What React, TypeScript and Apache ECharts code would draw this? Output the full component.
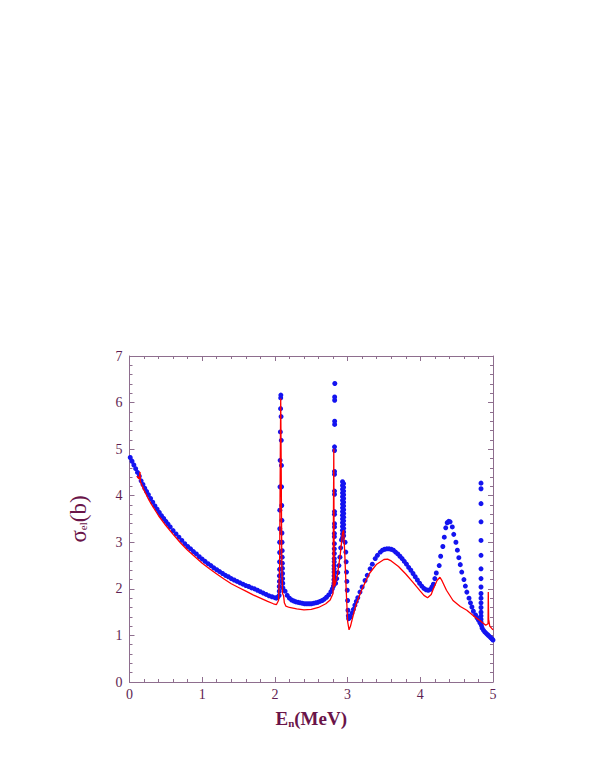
import React, { useEffect, useRef } from "react";
import * as echarts from "echarts";

// ---------- data (E in MeV, sigma in barn) ----------
const xTickValues = [0, 1, 2, 3, 4, 5];
const yTickValues = [0, 1, 2, 3, 4, 5, 6, 7];

const blueLow: [number, number][] = [
  [0.01, 4.82], [0.035, 4.74], [0.06, 4.66], [0.085, 4.58], [0.11, 4.5], [0.135, 4.42],
  [0.16, 4.32], [0.185, 4.24], [0.21, 4.16], [0.235, 4.09], [0.26, 4.02], [0.29, 3.94],
  [0.32, 3.86], [0.35, 3.78], [0.38, 3.71], [0.41, 3.64], [0.44, 3.57], [0.47, 3.51],
  [0.5, 3.45], [0.53, 3.39], [0.56, 3.33], [0.6, 3.25], [0.64, 3.18], [0.68, 3.11],
  [0.72, 3.04], [0.76, 2.97], [0.8, 2.91], [0.84, 2.86], [0.88, 2.8], [0.92, 2.75],
  [0.96, 2.69], [1.0, 2.64], [1.04, 2.59], [1.08, 2.54], [1.12, 2.5], [1.16, 2.45],
  [1.2, 2.41], [1.24, 2.37], [1.28, 2.33], [1.32, 2.29], [1.36, 2.26], [1.4, 2.22],
  [1.44, 2.19], [1.48, 2.16], [1.52, 2.13], [1.56, 2.1], [1.6, 2.07], [1.64, 2.05],
  [1.68, 2.02], [1.72, 2.0], [1.76, 1.97], [1.8, 1.94], [1.84, 1.91], [1.88, 1.88],
  [1.92, 1.85], [1.96, 1.83], [2.0, 1.81], [2.02, 1.8], [2.04, 1.82],
];

const blueRes1: [number, number][] = [
  [2.058, 1.86], [2.06, 1.95], [2.06, 2.05], [2.062, 2.16], [2.062, 2.28], [2.064, 2.42],
  [2.064, 2.58], [2.066, 2.78], [2.066, 3.0], [2.068, 3.29], [2.068, 3.69], [2.07, 4.19],
  [2.072, 4.76], [2.075, 5.37], [2.078, 5.87], [2.08, 6.1], [2.082, 6.16], [2.085, 5.7],
  [2.088, 5.19], [2.09, 4.65], [2.092, 4.19], [2.094, 3.79], [2.096, 3.47], [2.097, 3.2],
  [2.098, 3.0], [2.1, 2.82], [2.1, 2.68], [2.102, 2.55], [2.104, 2.44], [2.105, 2.33],
  [2.106, 2.22], [2.108, 2.12], [2.11, 2.02],
];

const blueMid: [number, number][] = [
  [2.14, 1.95], [2.17, 1.86], [2.2, 1.8], [2.23, 1.76], [2.26, 1.74], [2.29, 1.72],
  [2.32, 1.71], [2.35, 1.7], [2.38, 1.69], [2.41, 1.68], [2.44, 1.68], [2.47, 1.68],
  [2.5, 1.68], [2.53, 1.69], [2.56, 1.7], [2.59, 1.71], [2.62, 1.73], [2.65, 1.75],
  [2.68, 1.78], [2.71, 1.82], [2.74, 1.87], [2.77, 1.94], [2.79, 2.0], [2.805, 2.06],
];

const blueRes2: [number, number][] = [
  [2.812, 2.12], [2.812, 2.2], [2.814, 2.28], [2.814, 2.36], [2.815, 2.43], [2.815, 2.5],
  [2.816, 2.58], [2.816, 2.65], [2.817, 2.76], [2.817, 2.86], [2.818, 2.97], [2.818, 3.12],
  [2.818, 3.19], [2.82, 3.33], [2.82, 3.4], [2.82, 3.6], [2.82, 3.66], [2.82, 4.03],
  [2.82, 4.1], [2.82, 4.46], [2.82, 4.52], [2.82, 4.97], [2.82, 5.05], [2.822, 5.53],
  [2.822, 5.6], [2.822, 6.05], [2.822, 6.12], [2.824, 6.41],
  [2.835, 2.12], [2.85, 2.22], [2.865, 2.35], [2.88, 2.5], [2.895, 2.68], [2.905, 2.88],
  [2.915, 3.05],
];

const blueRes3: [number, number][] = [
  [2.93, 3.1], [2.93, 3.18], [2.93, 3.26], [2.93, 3.34], [2.93, 3.42], [2.93, 3.5],
  [2.93, 3.58], [2.93, 3.66], [2.93, 3.74], [2.93, 3.82], [2.93, 3.9], [2.93, 3.98],
  [2.93, 4.06], [2.93, 4.14], [2.93, 4.22], [2.93, 4.3],
  [2.945, 3.14], [2.945, 3.22], [2.945, 3.3], [2.945, 3.38], [2.945, 3.46], [2.945, 3.54],
  [2.945, 3.62], [2.945, 3.7], [2.945, 3.78], [2.945, 3.86], [2.945, 3.94], [2.945, 4.02],
  [2.945, 4.1], [2.945, 4.18], [2.945, 4.26],
  [2.965, 3.0], [2.975, 2.79], [2.98, 2.58], [2.985, 2.36], [2.99, 2.16], [2.995, 1.97],
  [3.0, 1.75], [3.005, 1.54], [3.01, 1.42], [3.015, 1.36],
];

const blueHump: [number, number][] = [
  [3.02, 1.38], [3.04, 1.4], [3.06, 1.48], [3.08, 1.56], [3.1, 1.65], [3.12, 1.73],
  [3.14, 1.81], [3.17, 1.93], [3.2, 2.04], [3.24, 2.18], [3.27, 2.29], [3.31, 2.43],
  [3.34, 2.53], [3.38, 2.65], [3.41, 2.72], [3.45, 2.79], [3.48, 2.83], [3.51, 2.85],
  [3.54, 2.86], [3.57, 2.86], [3.6, 2.85], [3.63, 2.83], [3.66, 2.79], [3.69, 2.75],
  [3.72, 2.7], [3.75, 2.65], [3.78, 2.59], [3.81, 2.53], [3.84, 2.46], [3.87, 2.4],
  [3.9, 2.33], [3.93, 2.26], [3.96, 2.19], [3.99, 2.12], [4.02, 2.06], [4.05, 2.01],
  [4.08, 1.98], [4.11, 1.97], [4.14, 1.99], [4.16, 2.04], [4.18, 2.1],
];

const bluePeak: [number, number][] = [
  [4.2, 2.22], [4.22, 2.34], [4.26, 2.5], [4.28, 2.7], [4.31, 2.91], [4.33, 3.11],
  [4.35, 3.31], [4.37, 3.42], [4.39, 3.45], [4.41, 3.44], [4.44, 3.33], [4.46, 3.17],
  [4.49, 3.0], [4.51, 2.83], [4.53, 2.67], [4.55, 2.52], [4.57, 2.36], [4.6, 2.2],
  [4.62, 2.06], [4.64, 1.93], [4.67, 1.8], [4.69, 1.7], [4.71, 1.61], [4.73, 1.52],
  [4.76, 1.44], [4.78, 1.38], [4.8, 1.33], [4.82, 1.27],
];

const blueRes4: [number, number][] = [
  [4.835, 4.27], [4.835, 4.15], [4.835, 3.83], [4.835, 3.44], [4.835, 3.04], [4.835, 2.72],
  [4.835, 2.43], [4.835, 2.22], [4.835, 2.04], [4.835, 1.9], [4.835, 1.8], [4.835, 1.7],
  [4.835, 1.6], [4.835, 1.5], [4.835, 1.42], [4.835, 1.35], [4.835, 1.29], [4.84, 1.22],
  [4.85, 1.16], [4.87, 1.11], [4.89, 1.07], [4.91, 1.04], [4.93, 1.01], [4.95, 0.98],
  [4.97, 0.95], [4.99, 0.92], [5.0, 0.9],
];

const redCurve: [number, number][] = [
  [0.1, 4.42], [0.13, 4.36], [0.145, 4.51], [0.15, 4.3], [0.2, 4.12], [0.25, 3.96],
  [0.3, 3.82], [0.4, 3.57], [0.5, 3.36], [0.6, 3.17], [0.7, 2.99], [0.8, 2.83],
  [0.9, 2.69], [1.0, 2.55], [1.1, 2.43], [1.2, 2.32], [1.3, 2.21], [1.4, 2.11],
  [1.5, 2.03], [1.6, 1.95], [1.7, 1.87], [1.8, 1.8], [1.9, 1.73], [1.98, 1.68],
  [2.02, 1.66], [2.05, 1.75], [2.065, 2.5], [2.075, 5.0], [2.08, 6.09], [2.085, 5.0],
  [2.095, 2.5], [2.105, 1.9], [2.12, 1.85], [2.13, 1.7], [2.15, 1.63], [2.2, 1.6],
  [2.3, 1.57], [2.4, 1.55], [2.5, 1.56], [2.6, 1.6], [2.7, 1.68], [2.76, 1.76],
  [2.8, 1.9], [2.81, 5.01], [2.815, 2.6], [2.82, 2.05], [2.86, 2.3], [2.9, 2.75],
  [2.93, 3.2], [2.945, 3.26], [2.96, 2.8], [2.98, 2.0], [3.0, 1.3], [3.02, 1.12],
  [3.04, 1.2], [3.08, 1.45], [3.12, 1.68], [3.2, 2.0], [3.3, 2.33], [3.4, 2.53],
  [3.5, 2.63], [3.55, 2.64], [3.6, 2.6], [3.7, 2.48], [3.8, 2.32], [3.9, 2.14],
  [4.0, 1.95], [4.05, 1.86], [4.1, 1.81], [4.15, 1.88], [4.18, 2.0], [4.23, 2.18],
  [4.27, 2.25], [4.3, 2.17], [4.36, 1.97], [4.45, 1.75], [4.55, 1.62], [4.64, 1.54],
  [4.73, 1.42], [4.82, 1.32], [4.9, 1.22], [4.932, 1.25], [4.935, 1.93], [4.94, 1.35],
  [4.955, 1.2], [5.0, 1.12],
];

// ---------- styles ----------
const axisColor = "#8e6e8e";
const labelColor = "#5e1e52";
const titleColor = "#6a1449";
const serif = "'Liberation Serif', 'DejaVu Serif', serif";

export default function App() {
  const ref = useRef<HTMLDivElement>(null);

  useEffect(() => {
    if (!ref.current) return;
    const chart = echarts.init(ref.current, undefined, { renderer: "svg" });

    const blueData = [
      ...blueLow, ...blueRes1, ...blueMid, ...blueRes2, ...blueRes3,
      ...blueHump, ...bluePeak, ...blueRes4,
    ];

    const tickCommon = {
      axisLine: { show: true, onZero: false, lineStyle: { color: axisColor, width: 1 } },
      axisTick: { show: true, inside: true, length: 5, lineStyle: { color: axisColor } },
      minorTick: { show: true, splitNumber: 5, length: 3, lineStyle: { color: axisColor } },
      splitLine: { show: false },
    };

    chart.setOption({
      animation: false,
      backgroundColor: "#ffffff",
      grid: { left: 129.5, top: 356, right: 102, bottom: 88 },
      xAxis: [
        {
          type: "value",
          min: xTickValues[0],
          max: xTickValues[xTickValues.length - 1],
          interval: 1,
          position: "bottom",
          ...tickCommon,
          axisLabel: {
            color: labelColor,
            fontFamily: serif,
            fontSize: 14,
            margin: 5,
          },
          name: "{b|E}{s|n}{b|(MeV)}",
          nameLocation: "middle",
          nameGap: 26,
          nameTextStyle: {
            rich: {
              b: { fontFamily: serif, fontWeight: "bold", fontSize: 19, color: titleColor },
              s: { fontFamily: serif, fontWeight: "bold", fontSize: 11, color: titleColor, verticalAlign: "bottom", padding: [9, 0, 0, 0] },
            },
          },
        },
        {
          type: "value",
          min: xTickValues[0],
          max: xTickValues[xTickValues.length - 1],
          interval: 1,
          position: "top",
          ...tickCommon,
          axisLabel: { show: false },
        },
      ],
      yAxis: [
        {
          type: "value",
          min: yTickValues[0],
          max: yTickValues[yTickValues.length - 1],
          interval: 1,
          position: "left",
          ...tickCommon,
          axisLabel: {
            color: labelColor,
            fontFamily: serif,
            fontSize: 14,
            margin: 7,
          },
          name: "{a|σ}{s|el}{a|(b)}",
          nameLocation: "middle",
          nameRotate: 90,
          nameGap: 40,
          nameTextStyle: {
            rich: {
              a: { fontFamily: serif, fontSize: 23, color: titleColor },
              s: { fontFamily: serif, fontSize: 11, color: titleColor, padding: [10, 0, 0, 0] },
            },
          },
        },
        {
          type: "value",
          min: yTickValues[0],
          max: yTickValues[yTickValues.length - 1],
          interval: 1,
          position: "right",
          ...tickCommon,
          axisLabel: { show: false },
        },
      ],
      series: [
        {
          type: "scatter",
          data: blueData,
          symbol: "circle",
          symbolSize: 5,
          itemStyle: { color: "#1414f0", opacity: 1 },
          z: 2,
        },
        {
          type: "line",
          data: redCurve,
          showSymbol: false,
          symbol: "none",
          lineStyle: { color: "#ff0000", width: 1.3 },
          z: 3,
        },
      ],
    });

    return () => chart.dispose();
  }, []);

  return (
    <div
      ref={ref}
      style={{ position: "absolute", left: 0, top: 0, width: 595, height: 770 }}
    />
  );
}
